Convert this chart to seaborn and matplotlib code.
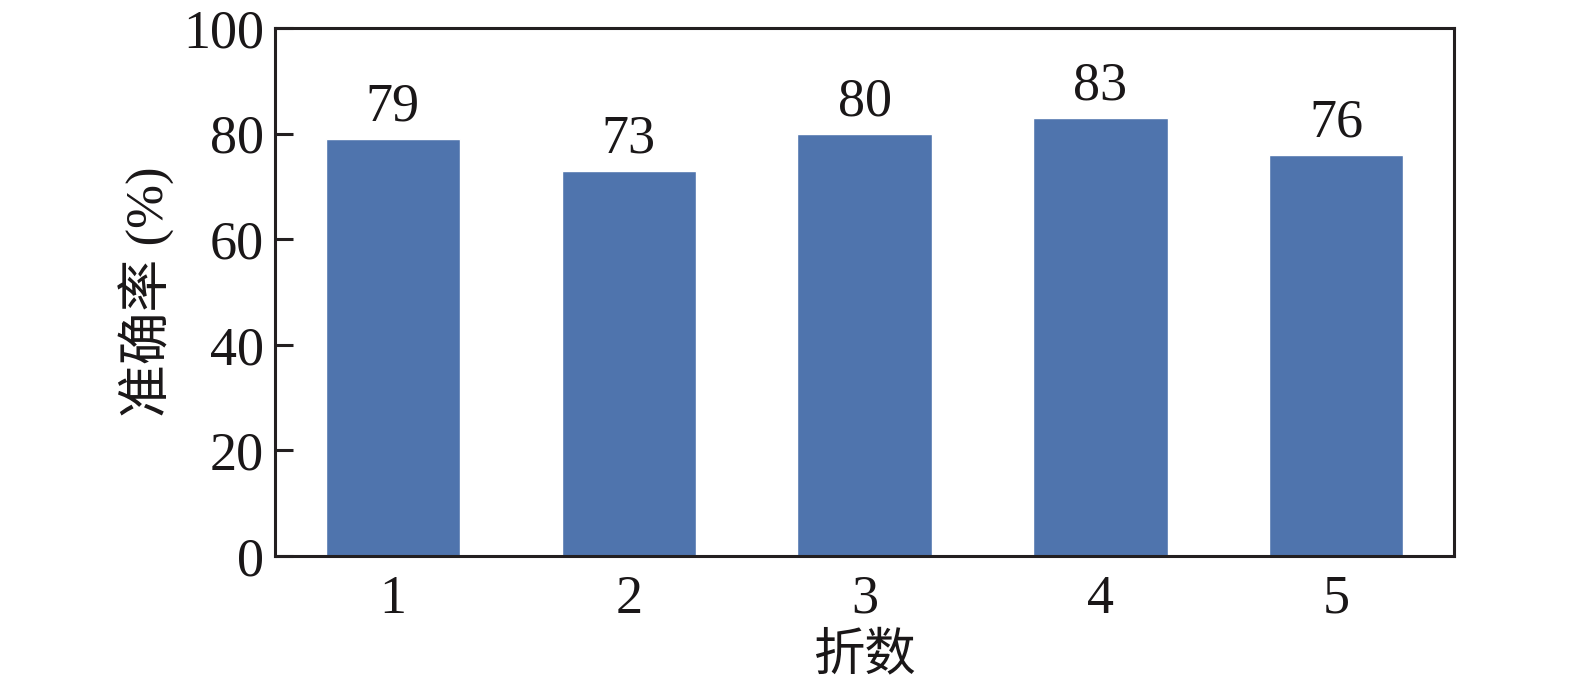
import matplotlib
matplotlib.use("Agg")
import matplotlib.pyplot as plt
import seaborn as sns
import pandas as pd

folds = ["1", "2", "3", "4", "5"]
accuracy = [79, 73, 80, 83, 76]
yticks = [0, 20, 40, 60, 80, 100]

sns.set_style("white")
plt.rcParams['font.family'] = ['Liberation Serif', 'Noto Sans CJK SC', 'DejaVu Sans']

df = pd.DataFrame({"fold": folds, "acc": accuracy})

fig = plt.figure(figsize=(15.75, 6.83), dpi=100)
ax = fig.add_axes([0.1746, 0.186, 0.7486, 0.773])
sns.barplot(data=df, x="fold", y="acc", color="#4f74ad", saturation=1, width=0.57, ax=ax)

ax.set_xlim(-0.5, 4.5)
ax.set_ylim(0, 100)
ax.set_yticks(yticks)
ax.set_yticklabels([str(t) for t in yticks])
ax.tick_params(axis='y', direction='in', length=13, width=2.2, color='#231f20',
               labelsize=39, pad=8, right=False, left=True, labelcolor='#1a1718')
ax.tick_params(axis='x', length=0, labelsize=39, pad=13, labelcolor='#1a1718')
for s in ax.spines.values():
    s.set_linewidth(2.2)
    s.set_color('#231f20')
    s.set_visible(True)

for i, v in enumerate(accuracy):
    ax.text(i, v + 1.2, str(v), ha='center', va='bottom', fontsize=39, color='#1a1718')

ax.set_xlabel("折数", fontsize=37, labelpad=6, color='#1a1718')
ax.set_ylabel("准确率 (%)", fontsize=38, labelpad=6, color='#1a1718')

fig.savefig("out.png", dpi=100)
